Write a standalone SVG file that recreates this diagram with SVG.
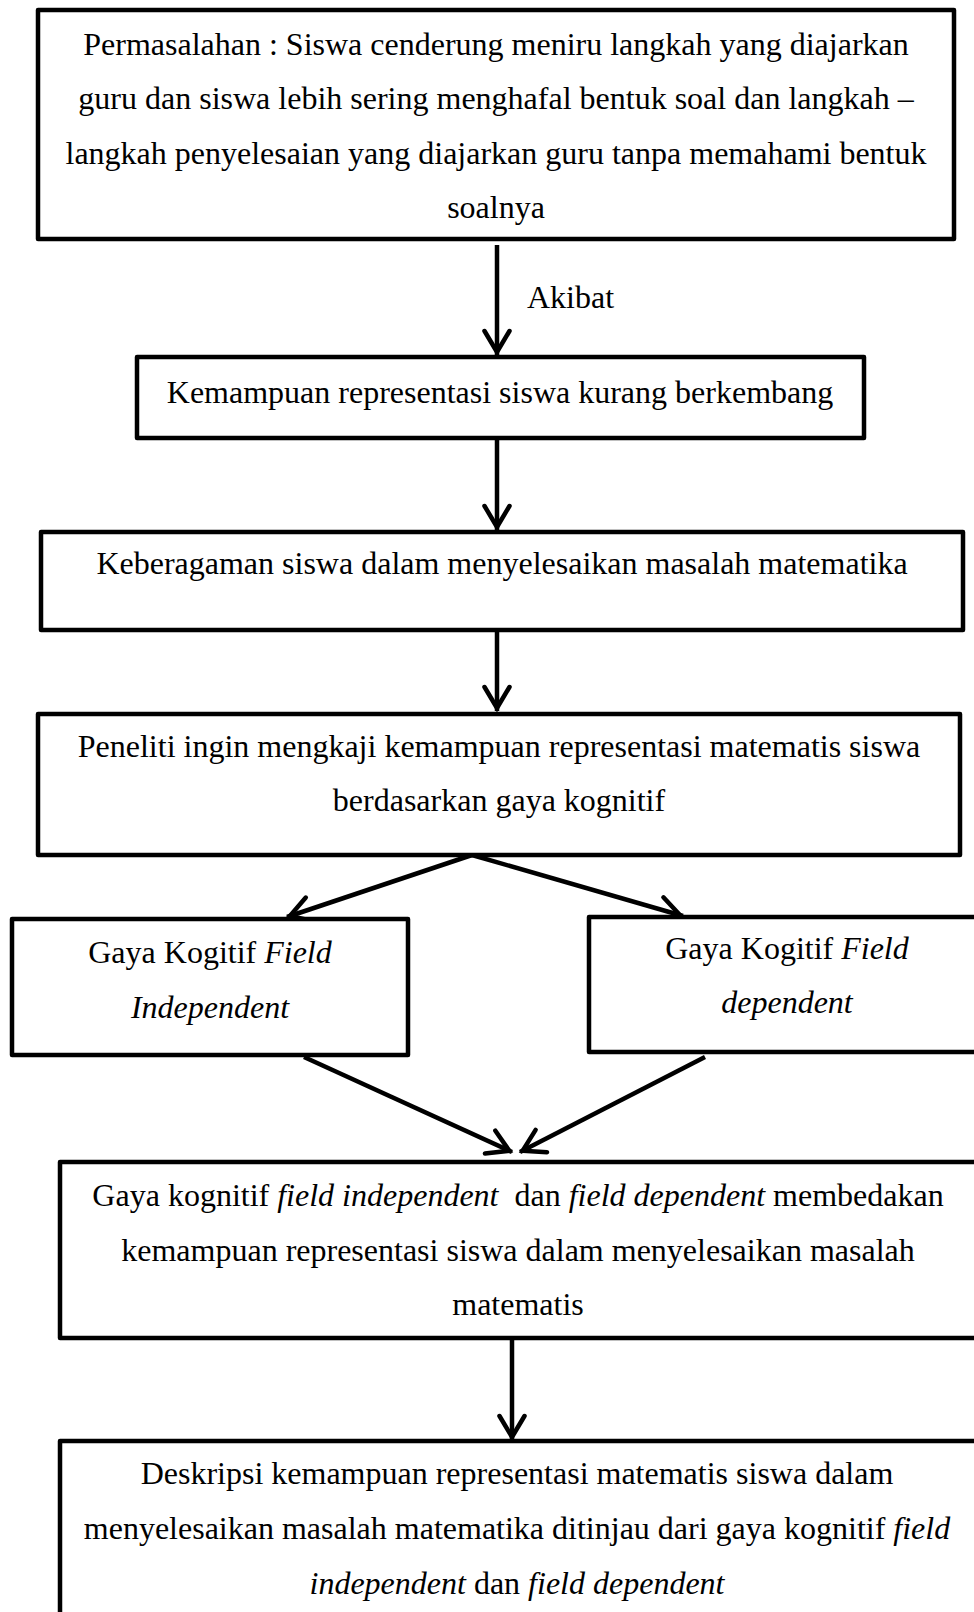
<svg xmlns="http://www.w3.org/2000/svg" width="974" height="1612" viewBox="0 0 974 1612">
<style>
.box{fill:#fff;stroke:#000;stroke-width:4.5;stroke-linejoin:round}
.t{font-family:"Liberation Serif","Times New Roman",serif;font-size:32px;fill:#000;text-anchor:middle}
.i{font-style:italic}
.c{fill:none;stroke:#000;stroke-width:4.5;marker-end:url(#ah)}
</style>
<defs>
<marker id="ah" markerUnits="userSpaceOnUse" markerWidth="40" markerHeight="40" viewBox="-30 -20 40 40" refX="0" refY="0" orient="auto" overflow="visible">
<path d="M-24,-12.5 L-3,0 L-24,12.5" fill="none" stroke="#000" stroke-width="4.5" stroke-linejoin="miter" stroke-linecap="round"/>
</marker>
</defs>
<rect width="974" height="1612" fill="#fff"/>
<g id="connectors">
<line class="c" x1="497" y1="245" x2="497" y2="355"/>
<line class="c" x1="497" y1="438" x2="497" y2="530"/>
<line class="c" x1="497" y1="631" x2="497" y2="711"/>
<line class="c" x1="472" y1="855" x2="287" y2="917"/>
<line class="c" x1="472" y1="855" x2="683" y2="916"/>
<line class="c" x1="304" y1="1057" x2="512" y2="1152"/>
<line class="c" x1="705" y1="1057" x2="520" y2="1152"/>
<line class="c" x1="512" y1="1339" x2="512" y2="1440"/>
<text class="t" x="527" y="308" style="text-anchor:start">Akibat</text>
</g>
<g id="n1">
<rect class="box" x="38" y="10" width="916" height="229"/>
<text class="t" x="496" y="55">Permasalahan : Siswa cenderung meniru langkah yang diajarkan</text>
<text class="t" x="496" y="109">guru dan siswa lebih sering menghafal bentuk soal dan langkah –</text>
<text class="t" x="496" y="164">langkah penyelesaian yang diajarkan guru tanpa memahami bentuk</text>
<text class="t" x="496" y="218">soalnya</text>
</g>
<g id="n2">
<rect class="box" x="137" y="357" width="727" height="81"/>
<text class="t" x="500" y="403">Kemampuan representasi siswa kurang berkembang</text>
</g>
<g id="n3">
<rect class="box" x="41" y="532" width="922" height="98"/>
<text class="t" x="502" y="574">Keberagaman siswa dalam menyelesaikan masalah matematika</text>
</g>
<g id="n4">
<rect class="box" x="38" y="714" width="922" height="141"/>
<text class="t" x="499" y="757">Peneliti ingin mengkaji kemampuan representasi matematis siswa</text>
<text class="t" x="499" y="811">berdasarkan gaya kognitif</text>
</g>
<g id="n5">
<rect class="box" x="12" y="919" width="396" height="136"/>
<text class="t" x="210" y="963">Gaya Kogitif <tspan class="i">Field</tspan></text>
<text class="t i" x="210" y="1018">Independent</text>
</g>
<g id="n6">
<rect class="box" x="589" y="917" width="396" height="135"/>
<text class="t" x="787" y="959">Gaya Kogitif <tspan class="i">Field</tspan></text>
<text class="t i" x="787" y="1013">dependent</text>
</g>
<g id="n7">
<rect class="box" x="60" y="1162" width="917" height="176"/>
<text class="t" x="518" y="1206" xml:space="preserve">Gaya kognitif <tspan class="i">field independent</tspan>  dan <tspan class="i">field dependent</tspan> membedakan</text>
<text class="t" x="518" y="1261">kemampuan representasi siswa dalam menyelesaikan masalah</text>
<text class="t" x="518" y="1315">matematis</text>
</g>
<g id="n8">
<rect class="box" x="60" y="1441" width="917" height="200"/>
<text class="t" x="517" y="1484">Deskripsi kemampuan representasi matematis siswa dalam</text>
<text class="t" x="517" y="1539">menyelesaikan masalah matematika ditinjau dari gaya kognitif <tspan class="i">field</tspan></text>
<text class="t" x="517" y="1594"><tspan class="i">independent</tspan> dan <tspan class="i">field dependent</tspan></text>
</g>
</svg>
